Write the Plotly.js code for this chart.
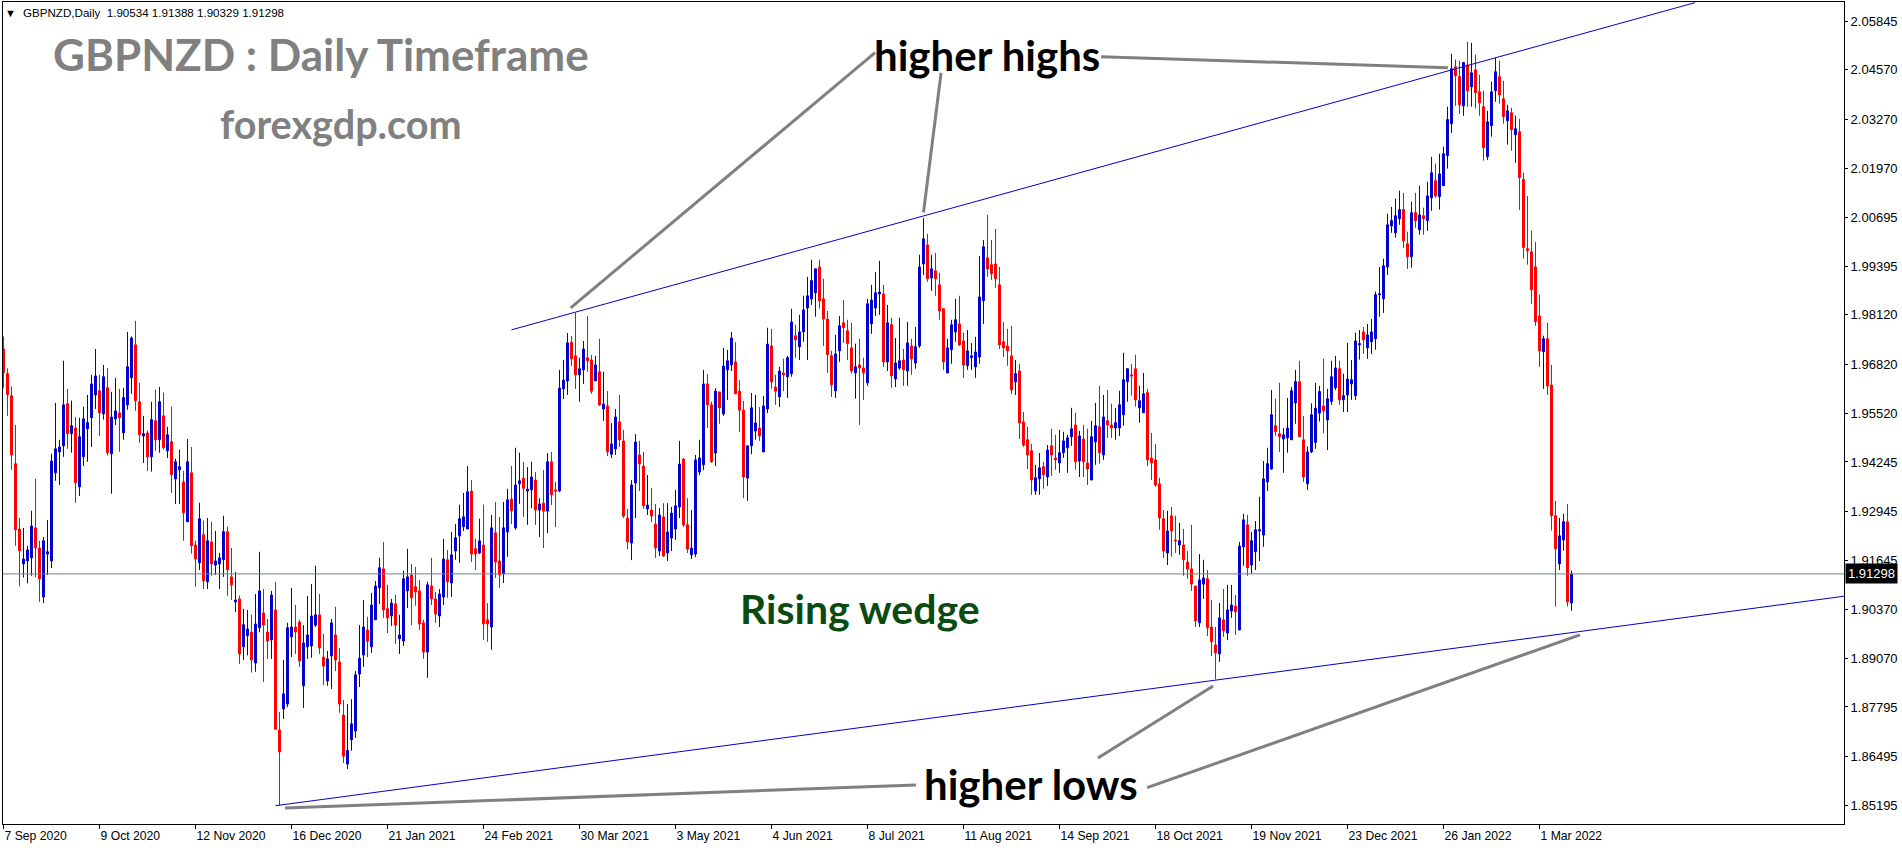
<!DOCTYPE html>
<html><head><meta charset="utf-8">
<script src="https://cdn.plot.ly/plotly-3.0.1.min.js"></script>
<style>html,body{margin:0;padding:0;background:#fff;overflow:hidden}#chart{width:1902px;height:848px}</style>
</head><body><div id="chart"></div>
<script>
const opens=[
1.9722,1.9657,1.9599,1.9420,1.9248,1.9156,1.9164,1.9172,1.9251,1.9198,
1.9069,1.9182,1.9164,1.9396,1.9451,1.9467,1.9578,1.9499,1.9514,1.9359,
1.9438,1.9512,1.9541,1.9601,1.9612,1.9551,1.9620,1.9446,1.9538,1.9554,
1.9501,1.9575,1.9646,1.9733,1.9583,1.9493,1.9501,1.9438,1.9533,1.9483,
1.9546,1.9454,1.9478,1.9380,1.9404,1.9372,1.9267,1.9396,1.9206,1.9159,
1.9233,1.9109,1.9214,1.9153,1.9156,1.9167,1.9241,1.9122,1.9056,1.9064,
1.8938,1.8967,1.8977,1.8895,1.8988,1.9027,1.8977,1.8956,1.9035,1.8719,
1.8774,1.8787,1.8964,1.8990,1.9003,1.8835,1.8938,1.8940,1.8995,1.9022,
1.8911,1.8848,1.8914,1.8969,1.8898,1.8758,1.8629,1.8693,1.8716,1.8866,
1.8916,1.8982,1.8938,1.9009,1.9093,1.9143,1.9038,1.9019,1.9051,1.8959,
1.8953,1.9085,1.9127,1.9096,1.9085,1.9001,1.8924,1.9098,1.9064,1.9019,
1.9069,1.9167,1.9106,1.9190,1.9230,1.9254,1.9248,1.9348,1.9196,1.9185,
1.9206,1.9009,1.8990,1.9238,1.9164,1.9130,1.9240,1.9327,1.9251,1.9367,
1.9382,1.9348,1.9351,1.9377,1.9298,1.9316,1.9295,1.9425,1.9351,1.9348,
1.9617,1.9638,1.9740,1.9704,1.9654,1.9667,1.9699,1.9693,1.9638,1.9662,
1.9564,1.9572,1.9445,1.9459,1.9530,1.9480,1.9277,1.9211,1.9369,1.9443,
1.9414,1.9301,1.9298,1.9261,1.9190,1.9280,1.9185,1.9224,1.9248,1.9306,
1.9432,1.9259,1.9180,1.9182,1.9398,1.9417,1.9630,1.9575,1.9448,1.9609,
1.9551,1.9667,1.9680,1.9688,1.9611,1.9561,1.9382,1.9467,1.9506,1.9514,
1.9451,1.9564,1.9730,1.9622,1.9596,1.9659,1.9649,1.9657,1.9757,1.9728,
1.9767,1.9830,1.9854,1.9870,1.9938,1.9854,1.9801,1.9704,1.9612,1.9717,
1.9791,1.9770,1.9725,1.9659,1.9680,1.9672,1.9633,1.9788,1.9830,1.9867,
1.9867,1.9688,1.9786,1.9643,1.9672,1.9693,1.9664,1.9730,1.9685,1.9730,
1.9946,1.9996,1.9909,1.9928,1.9891,1.9828,1.9659,1.9720,1.9767,1.9788,
1.9743,1.9678,1.9699,1.9675,1.9701,1.9849,1.9962,1.9944,1.9946,1.9891,
1.9741,1.9730,1.9704,1.9635,1.9664,1.9530,1.9483,1.9454,1.9348,1.9380,
1.9412,1.9385,1.9467,1.9435,1.9422,1.9449,1.9462,1.9491,1.9522,1.9427,
1.9485,1.9422,1.9377,1.9477,1.9517,1.9443,1.9533,1.9522,1.9514,1.9514,
1.9549,1.9636,1.9654,1.9670,1.9567,1.9554,1.9607,1.9435,1.9430,1.9367,
1.9275,1.9185,1.9283,1.9219,1.9206,1.9206,1.9161,1.9143,1.9098,1.9001,
1.9103,1.9117,1.8990,1.8943,1.8919,1.9009,1.8974,1.9032,1.9045,1.8982,
1.9201,1.9259,1.9153,1.9188,1.9243,1.9232,1.9372,1.9406,1.9520,1.9499,
1.9485,1.9488,1.9483,1.9580,1.9636,1.9483,1.9367,1.9451,1.9476,1.9553,
1.9572,1.9535,1.9584,1.9620,1.9670,1.9588,1.9601,1.9630,1.9599,1.9733,
1.9767,1.9725,1.9741,1.9749,1.9865,1.9854,1.9938,2.0046,2.0028,2.0065,
2.0089,1.9999,1.9965,2.0081,2.0036,2.0073,2.0060,2.0120,2.0165,2.0123,
2.0152,2.0231,2.0315,2.0465,2.0439,2.0362,2.0470,2.0412,2.0457,2.0399,
2.0360,2.0228,2.0310,2.0402,2.0439,2.0381,2.0323,2.0344,2.0286,2.0294,
2.0168,1.9986,1.9978,1.9938,1.9809,1.9715,1.9749,1.9627,1.9283,1.9156,
1.9219,1.9267,1.90534];
const closes=[
1.9660,1.9602,1.9443,1.9246,1.9191,1.9169,1.9193,1.9256,1.9198,1.9117,
1.9217,1.9188,1.9427,1.9459,1.9464,1.9575,1.9499,1.9520,1.9370,1.9491,
1.9538,1.9528,1.9630,1.9651,1.9554,1.9649,1.9449,1.9543,1.9559,1.9541,
1.9594,1.9675,1.9751,1.9586,1.9496,1.9499,1.9438,1.9536,1.9483,1.9583,
1.9462,1.9496,1.9391,1.9425,1.9412,1.9291,1.9425,1.9204,1.9169,1.9275,
1.9112,1.9217,1.9156,1.9164,1.9172,1.9241,1.9141,1.9101,1.9061,1.8919,
1.8996,1.8985,1.8903,1.8998,1.9085,1.8995,1.8953,1.9074,1.8721,1.8661,
1.8814,1.8988,1.8990,1.8977,1.8901,1.8948,1.8969,1.9019,1.9022,1.8935,
1.8887,1.8906,1.9001,1.8903,1.8787,1.8650,1.8665,1.8735,1.8864,1.8908,
1.8990,1.8953,1.9048,1.9098,1.9146,1.9035,1.9014,1.9053,1.8995,1.8969,
1.9117,1.9122,1.9067,1.9082,1.8998,1.8924,1.9101,1.9064,1.9024,1.9077,
1.9169,1.9109,1.9180,1.9225,1.9275,1.9280,1.9346,1.9182,1.9182,1.9217,
1.8998,1.8998,1.9251,1.9161,1.9127,1.9251,1.9325,1.9296,1.9364,1.9375,
1.9355,1.9353,1.9385,1.9298,1.9314,1.9295,1.9425,1.9338,1.9348,1.9619,
1.9640,1.9738,1.9696,1.9654,1.9670,1.9722,1.9691,1.9611,1.9680,1.9575,
1.9577,1.9451,1.9472,1.9543,1.9483,1.9282,1.9214,1.9364,1.9477,1.9419,
1.9309,1.9311,1.9282,1.9198,1.9285,1.9177,1.9240,1.9290,1.9309,1.9419,
1.9259,1.9195,1.9198,1.9430,1.9435,1.9630,1.9575,1.9425,1.9611,1.9567,
1.9677,1.9691,1.9751,1.9604,1.9561,1.9385,1.9467,1.9567,1.9527,1.9493,
1.9572,1.9735,1.9635,1.9611,1.9664,1.9654,1.9699,1.9793,1.9746,1.9767,
1.9825,1.9862,1.9902,1.9933,1.9849,1.9801,1.9707,1.9628,1.9709,1.9783,
1.9778,1.9736,1.9664,1.9675,1.9672,1.9659,1.9841,1.9851,1.9870,1.9872,
1.9688,1.9791,1.9651,1.9685,1.9691,1.9667,1.9738,1.9696,1.9728,1.9938,
2.0012,1.9907,1.9933,1.9907,1.9822,1.9688,1.9725,1.9786,1.9799,1.9733,
1.9680,1.9717,1.9704,1.9714,1.9859,1.9991,1.9933,1.9920,1.9907,1.9733,
1.9725,1.9717,1.9614,1.9657,1.9527,1.9469,1.9443,1.9377,1.9383,1.9409,
1.9391,1.9456,1.9443,1.9430,1.9449,1.9480,1.9488,1.9512,1.9425,1.9493,
1.9425,1.9406,1.9491,1.9520,1.9449,1.9543,1.9522,1.9514,1.9528,1.9575,
1.9641,1.9670,1.9651,1.9588,1.9586,1.9604,1.9430,1.9422,1.9364,1.9277,
1.9190,1.9243,1.9243,1.9217,1.9217,1.9167,1.9143,1.9103,1.9006,1.9114,
1.9119,1.8988,1.8951,1.8922,1.9014,1.8980,1.9035,1.9048,1.9030,1.9203,
1.9272,1.9146,1.9217,1.9246,1.9246,1.9380,1.9420,1.9549,1.9504,1.9491,
1.9496,1.9514,1.9612,1.9636,1.9491,1.9385,1.9451,1.9549,1.9566,1.9610,
1.9559,1.9591,1.9649,1.9672,1.9588,1.9599,1.9643,1.9641,1.9743,1.9736,
1.9746,1.9759,1.9767,1.9865,1.9867,1.9941,2.0049,2.0060,2.0073,2.0089,
2.0007,1.9965,2.0081,2.0060,2.0075,2.0065,2.0125,2.0186,2.0125,2.0183,
2.0236,2.0326,2.0460,2.0441,2.0365,2.0476,2.0402,2.0449,2.0397,2.0370,
2.0252,2.0320,2.0399,2.0452,2.0391,2.0334,2.0349,2.0299,2.0302,2.0173,
1.9989,1.9981,1.9878,1.9794,1.9717,1.9749,1.9625,1.9283,1.9196,1.9230,
1.9267,1.9056,1.91298];
const highs=[
1.9755,1.9671,1.9623,1.9522,1.9277,1.9251,1.9204,1.9296,1.9380,1.9217,
1.9227,1.9272,1.9446,1.9580,1.9483,1.9691,1.9617,1.9586,1.9543,1.9541,
1.9570,1.9601,1.9654,1.9722,1.9654,1.9680,1.9672,1.9609,1.9646,1.9617,
1.9620,1.9767,1.9755,1.9796,1.9633,1.9546,1.9507,1.9583,1.9615,1.9622,
1.9607,1.9517,1.9570,1.9433,1.9457,1.9401,1.9485,1.9464,1.9217,1.9317,
1.9270,1.9277,1.9267,1.9243,1.9185,1.9283,1.9254,1.9198,1.9135,1.9073,
1.9038,1.9035,1.9022,1.9077,1.9188,1.9090,1.9011,1.9085,1.9109,1.8766,
1.8903,1.9001,1.9093,1.9048,1.9009,1.8995,1.9072,1.9103,1.9151,1.9077,
1.8972,1.8927,1.9011,1.9043,1.8935,1.8798,1.8787,1.8800,1.8874,1.8995,
1.9061,1.9017,1.9080,1.9111,1.9172,1.9214,1.9101,1.9064,1.9075,1.9022,
1.9138,1.9196,1.9156,1.9148,1.9114,1.9009,1.9109,1.9172,1.9082,1.9090,
1.9222,1.9193,1.9240,1.9261,1.9312,1.9343,1.9414,1.9377,1.9222,1.9275,
1.9312,1.9053,1.9285,1.9319,1.9280,1.9319,1.9354,1.9414,1.9462,1.9449,
1.9425,1.9411,1.9425,1.9398,1.9329,1.9403,1.9448,1.9451,1.9372,1.9667,
1.9693,1.9764,1.9756,1.9817,1.9699,1.9743,1.9809,1.9706,1.9704,1.9749,
1.9662,1.9611,1.9527,1.9564,1.9601,1.9509,1.9301,1.9377,1.9498,1.9480,
1.9451,1.9390,1.9356,1.9314,1.9303,1.9316,1.9316,1.9306,1.9351,1.9480,
1.9435,1.9329,1.9298,1.9443,1.9483,1.9667,1.9656,1.9583,1.9619,1.9609,
1.9725,1.9720,1.9767,1.9740,1.9640,1.9585,1.9467,1.9606,1.9601,1.9569,
1.9598,1.9778,1.9775,1.9654,1.9675,1.9696,1.9704,1.9828,1.9786,1.9812,
1.9862,1.9912,1.9957,1.9933,1.9957,1.9907,1.9822,1.9717,1.9759,1.9809,
1.9851,1.9799,1.9791,1.9736,1.9749,1.9699,1.9854,1.9891,1.9925,1.9954,
1.9891,1.9838,1.9804,1.9751,1.9804,1.9722,1.9793,1.9749,1.9780,1.9970,
2.0067,2.0025,1.9970,1.9975,1.9923,1.9830,1.9749,1.9799,1.9854,1.9862,
1.9765,1.9772,1.9738,1.9754,1.9967,2.0009,2.0075,2.0009,2.0038,1.9938,
1.9793,1.9775,1.9783,1.9693,1.9683,1.9556,1.9517,1.9472,1.9417,1.9448,
1.9425,1.9469,1.9512,1.9496,1.9509,1.9504,1.9496,1.9567,1.9554,1.9506,
1.9522,1.9512,1.9533,1.9580,1.9625,1.9601,1.9614,1.9578,1.9567,1.9612,
1.9712,1.9672,1.9683,1.9707,1.9625,1.9659,1.9617,1.9501,1.9472,1.9383,
1.9298,1.9296,1.9306,1.9283,1.9264,1.9248,1.9190,1.9259,1.9098,1.9182,
1.9167,1.9140,1.9061,1.8990,1.9053,1.9090,1.9101,1.9101,1.9074,1.9214,
1.9288,1.9285,1.9240,1.9269,1.9333,1.9427,1.9462,1.9614,1.9591,1.9633,
1.9514,1.9593,1.9622,1.9667,1.9691,1.9546,1.9465,1.9579,1.9633,1.9625,
1.9696,1.9617,1.9691,1.9704,1.9691,1.9657,1.9738,1.9693,1.9765,1.9772,
1.9780,1.9788,1.9801,1.9873,1.9938,1.9960,2.0078,2.0096,2.0118,2.0139,
2.0133,2.0031,2.0110,2.0133,2.0152,2.0094,2.0162,2.0228,2.0210,2.0236,
2.0255,2.0360,2.0499,2.0484,2.0481,2.0478,2.0531,2.0528,2.0497,2.0444,
2.0402,2.0349,2.0426,2.0489,2.0481,2.0428,2.0365,2.0357,2.0336,2.0328,
2.0186,2.0125,2.0033,2.0004,1.9865,1.9757,1.9791,1.9680,1.9322,1.9277,
1.9288,1.9314,1.91388];
const lows=[
1.9619,1.9546,1.9404,1.9204,1.9097,1.9120,1.9105,1.9125,1.9121,1.9056,
1.9053,1.9127,1.9145,1.9375,1.9364,1.9438,1.9459,1.9449,1.9317,1.9335,
1.9414,1.9425,1.9464,1.9564,1.9493,1.9536,1.9441,1.9341,1.9522,1.9451,
1.9483,1.9562,1.9604,1.9559,1.9475,1.9422,1.9401,1.9399,1.9454,1.9449,
1.9457,1.9435,1.9343,1.9314,1.9314,1.9217,1.9267,1.9183,1.9096,1.9140,
1.9090,1.9090,1.9125,1.9127,1.9090,1.9122,1.9072,1.9061,1.9029,1.8893,
1.8903,1.8915,1.8870,1.8872,1.8976,1.8845,1.8906,1.8906,1.8719,1.8520,
1.8748,1.8779,1.8911,1.8919,1.8885,1.8777,1.8906,1.8909,1.8990,1.8919,
1.8837,1.8835,1.8827,1.8874,1.8764,1.8632,1.8616,1.8664,1.8698,1.8832,
1.8885,1.8911,1.8922,1.9009,1.9051,1.9014,1.8974,1.8993,1.8945,1.8919,
1.8940,1.9040,1.8995,1.9046,1.8982,1.8906,1.8856,1.9048,1.9001,1.8990,
1.9048,1.9067,1.9069,1.9167,1.9159,1.9243,1.9248,1.9161,1.9140,1.9182,
1.8956,1.8951,1.8930,1.9119,1.9093,1.9106,1.9175,1.9261,1.9246,1.9314,
1.9280,1.9259,1.9303,1.9259,1.9227,1.9198,1.9237,1.9311,1.9253,1.9345,
1.9590,1.9601,1.9677,1.9617,1.9583,1.9630,1.9662,1.9604,1.9638,1.9572,
1.9533,1.9440,1.9435,1.9443,1.9464,1.9277,1.9195,1.9166,1.9277,1.9348,
1.9301,1.9285,1.9266,1.9172,1.9177,1.9174,1.9164,1.9190,1.9219,1.9277,
1.9253,1.9185,1.9169,1.9174,1.9390,1.9403,1.9514,1.9422,1.9414,1.9525,
1.9546,1.9588,1.9664,1.9604,1.9503,1.9329,1.9322,1.9445,1.9483,1.9480,
1.9451,1.9553,1.9617,1.9575,1.9569,1.9611,1.9593,1.9649,1.9699,1.9693,
1.9741,1.9693,1.9838,1.9807,1.9828,1.9730,1.9659,1.9596,1.9593,1.9688,
1.9738,1.9693,1.9657,1.9591,1.9522,1.9588,1.9625,1.9762,1.9809,1.9812,
1.9675,1.9664,1.9620,1.9622,1.9667,1.9625,1.9625,1.9654,1.9670,1.9725,
1.9917,1.9899,1.9875,1.9862,1.9799,1.9667,1.9659,1.9683,1.9741,1.9730,
1.9646,1.9667,1.9667,1.9646,1.9683,1.9788,1.9912,1.9904,1.9883,1.9722,
1.9701,1.9678,1.9604,1.9601,1.9485,1.9464,1.9406,1.9338,1.9338,1.9338,
1.9354,1.9361,1.9388,1.9404,1.9396,1.9435,1.9396,1.9467,1.9404,1.9385,
1.9385,1.9364,1.9377,1.9417,1.9420,1.9430,1.9488,1.9488,1.9483,1.9493,
1.9520,1.9583,1.9599,1.9570,1.9528,1.9554,1.9414,1.9377,1.9359,1.9246,
1.9172,1.9153,1.9175,1.9185,1.9180,1.9125,1.9117,1.9085,1.8990,1.8990,
1.9064,1.8966,1.8914,1.8852,1.8898,1.8964,1.8956,1.9014,1.8969,1.8982,
1.9151,1.9125,1.9130,1.9140,1.9164,1.9201,1.9348,1.9404,1.9493,1.9451,
1.9396,1.9449,1.9483,1.9525,1.9491,1.9372,1.9351,1.9448,1.9459,1.9531,
1.9500,1.9456,1.9575,1.9614,1.9575,1.9556,1.9556,1.9588,1.9588,1.9694,
1.9709,1.9696,1.9709,1.9720,1.9807,1.9817,1.9917,2.0028,2.0015,2.0049,
1.9988,1.9933,1.9936,2.0041,2.0023,2.0023,2.0033,2.0086,2.0120,2.0089,
2.0152,2.0197,2.0291,2.0362,2.0341,2.0336,2.0360,2.0360,2.0355,2.0336,
2.0218,2.0220,2.0281,2.0373,2.0368,2.0315,2.0260,2.0244,2.0212,2.0088,
1.9960,1.9944,1.9841,1.9783,1.9675,1.9617,1.9601,1.9244,1.9044,1.9140,
1.9191,1.9044,1.90329];

const dateLabels=["7 Sep 2020","9 Oct 2020","12 Nov 2020","16 Dec 2020","21 Jan 2021","24 Feb 2021","30 Mar 2021","3 May 2021","4 Jun 2021","8 Jul 2021","11 Aug 2021","14 Sep 2021","18 Oct 2021","19 Nov 2021","23 Dec 2021","26 Jan 2022","1 Mar 2022"];
const dateBars=[0,24,48,72,96,120,144,168,192,216,240,264,288,312,336,360,384];
const priceTicks=[2.05845,2.04570,2.03270,2.01970,2.00695,1.99395,1.98120,1.96820,1.95520,1.94245,1.92945,1.91645,1.90370,1.89070,1.87795,1.86495,1.85195];
const lastClose=1.91298;
const priceBar="GBPNZD,Daily  1.90534 1.91388 1.90329 1.91298";

const wedgeUpperX=[127,422.9], wedgeUpperY=[1.97724,2.0634];
const wedgeLowerX=[68,460.125], wedgeLowerY=[1.85195,1.90710];
const callouts=[
 {x:[141.8,217.9],y:[1.98304,2.05021]},
 {x:[230,234.4],y:[2.00814,2.04494]},
 {x:[274.4,361.1],y:[2.04915,2.04625]},
 {x:[70.4,228.1],y:[1.85134,1.85740]},
 {x:[302.4,273.6],y:[1.88347,1.86451]},
 {x:[285.9,394.1],y:[1.85669,1.89691]}
];

const BLUE='#0000cd', RED='#ff0000', GREY='#808080';
const W=1902,H=848,L=3,R=58,T=2.3,B=24;
const px=x=>(x-L)/(W-L-R), py=y=>1-(y-T)/(H-T-B);
const label=(text,x,y,size,color,bold,anchor)=>({text:bold?'<b>'+text+'</b>':text,xref:'paper',yref:'paper',x:px(x),y:py(y),xanchor:anchor||'center',yanchor:'middle',showarrow:false,font:{family:bold?'Lato':'Liberation Sans',size:size,color:color}});

const traces=[
 {type:'candlestick',x:opens.map((_,k)=>k),open:opens,high:highs,low:lows,close:closes,whiskerwidth:0,
  increasing:{line:{color:BLUE,width:1},fillcolor:BLUE},decreasing:{line:{color:RED,width:1},fillcolor:RED},showlegend:false,hoverinfo:'skip'},
 {type:'scatter',mode:'lines',x:[-0.125,460.125],y:[lastClose,lastClose],line:{color:'#708090',width:1},showlegend:false,hoverinfo:'skip'},
 {type:'scatter',mode:'lines',x:wedgeUpperX,y:wedgeUpperY,line:{color:BLUE,width:1},showlegend:false,hoverinfo:'skip'},
 {type:'scatter',mode:'lines',x:wedgeLowerX,y:wedgeLowerY,line:{color:BLUE,width:1},showlegend:false,hoverinfo:'skip'}
].concat(callouts.map(c=>({type:'scatter',mode:'lines',x:c.x,y:c.y,line:{color:GREY,width:3},showlegend:false,hoverinfo:'skip'})));

const layout={
 width:W,height:H,autosize:false,paper_bgcolor:'#fff',plot_bgcolor:'#fff',showlegend:false,
 margin:{l:L,r:R,t:T,b:B,pad:0},hovermode:false,dragmode:false,boxgap:0.3,
 xaxis:{type:'linear',range:[-0.125,460.125],rangeslider:{visible:false},showgrid:false,zeroline:false,
  showline:true,linecolor:'#000',linewidth:1,mirror:true,ticks:'outside',ticklen:4,tickcolor:'#000',tickwidth:1,
  tickmode:'array',tickvals:dateBars,ticktext:dateLabels,tickangle:0,ticklabelposition:'outside right',
  tickfont:{family:'Liberation Sans',size:12.2,color:'#000'}},
 yaxis:{type:'linear',side:'right',range:[1.84713,2.06356],showgrid:false,zeroline:false,
  showline:true,linecolor:'#000',linewidth:1,mirror:true,ticks:'outside',ticklen:3,tickcolor:'#000',tickwidth:1,
  tickmode:'array',tickvals:priceTicks,ticktext:priceTicks.map(v=>v.toFixed(5)),
  tickfont:{family:'Liberation Sans',size:13,color:'#000'}},
 annotations:[
  label('▼',10,13,11,'#000',false),
  label(priceBar.replace(/  /g,'&nbsp;&nbsp;'),21,13,11.6,'#000',false,'left'),
  label('GBPNZD : Daily Timeframe',321,54,44,GREY,true),
  label('forexgdp.com',341,124,39.6,GREY,true),
  label('higher highs',987,55,42,'#000',true),
  label('higher lows',1031,784,42,'#000',true),
  label('Rising wedge',860,609,41,'#0b4a10',true),
  {text:lastClose.toFixed(5),xref:'paper',yref:'y',x:1,y:lastClose,xanchor:'left',yanchor:'middle',xshift:1,showarrow:false,bgcolor:'#000',borderpad:2,
   font:{family:'Liberation Sans',size:13,color:'#fff'}}
 ]
};
Plotly.newPlot('chart',traces,layout,{displayModeBar:false,staticPlot:true});
</script></body></html>
